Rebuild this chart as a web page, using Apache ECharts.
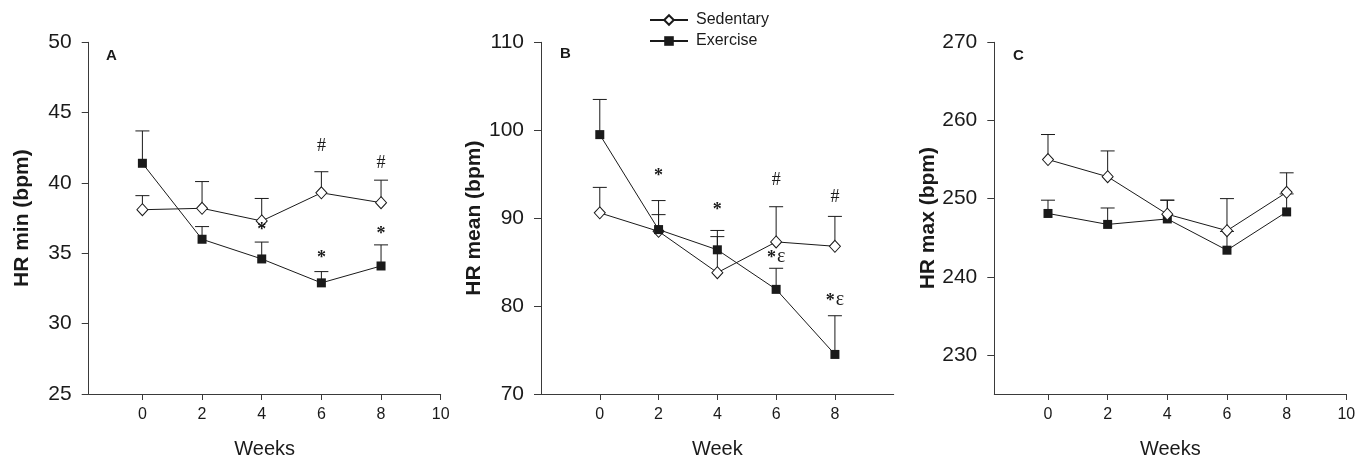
<!DOCTYPE html>
<html>
<head>
<meta charset="utf-8">
<script src="https://cdn.jsdelivr.net/npm/echarts@6/dist/echarts.min.js"></script>
<style>
html,body{margin:0;padding:0;background:#fff;}
#chart{width:1369px;height:464px;}
</style>
</head>
<body>
<div id="chart"></div>
<script>
// ---- data ----
const weeks = [0, 2, 4, 6, 8];

// Panel A: HR min
const hrMinSed    = [38.1, 38.2, 37.3, 39.3, 38.6];
const hrMinSedErr = [1.0, 1.9, 1.6, 1.5, 1.6];
const hrMinEx     = [41.4, 36.0, 34.6, 32.9, 34.1];
const hrMinExErr  = [2.3, 0.9, 1.2, 0.8, 1.5];

// Panel B: HR mean
const hrMeanSed    = [90.6, 88.5, 83.8, 87.3, 86.8];
const hrMeanSedErr = [2.9, 1.9, 4.1, 4.0, 3.4];
const hrMeanEx     = [99.5, 88.7, 86.4, 81.9, 74.5];
const hrMeanExErr  = [4.0, 3.3, 2.2, 2.4, 4.4];

// Panel C: HR max
const hrMaxSed    = [255.0, 252.8, 248.0, 245.9, 250.8];
const hrMaxSedErr = [3.2, 3.3, 1.8, 4.1, 2.5];
const hrMaxEx     = [248.1, 246.7, 247.4, 243.4, 248.3];
const hrMaxExErr  = [1.7, 2.1, 2.4, 2.4, 2.3];

// significance marks: weeks, values, texts
const annotAWeeks = [4, 6, 6, 8, 8];
const annotAVals  = [37.0, 42.6, 35.0, 41.4, 36.7];
const annotATexts = ['*', '#', '*', '#', '*'];
const annotBWeeks = [2, 4, 6, 8, 6, 8];
const annotBVals  = [95.3, 91.4, 94.3, 92.4, 85.8, 80.9];
const annotBTexts = ['*', '*', '#', '#', '*ε', '*ε'];

// axis tick values
const xTicksAC = [0, 2, 4, 6, 8, 10];
const xTicksB  = [0, 2, 4, 6, 8];
const yTicksA  = [25, 30, 35, 40, 45, 50];
const yTicksB  = [70, 80, 90, 100, 110];
const yTicksC  = [230, 240, 250, 260, 270];

const seriesNames = ['Sedentary', 'Exercise'];

// ---- chart ----
const FONT = 'Liberation Sans, Arial, sans-serif';
const SERIF = '"Liberation Serif", "DejaVu Serif", serif';
const INK = '#1a1a1a';
const AXIS = '#3a3a3a';

const panels = [
  {left: 88.7, width: 352, xmin: -1.8, xmax: 10, xticks: xTicksAC, ymin: 25, ymax: 50, yticks: yTicksA,
   yname: 'HR min (bpm)', xname: 'Weeks', sed: hrMinSed, sedErr: hrMinSedErr, ex: hrMinEx, exErr: hrMinExErr,
   aw: annotAWeeks, av: annotAVals, at: annotATexts, sedZ: 3, exZ: 4},
  {left: 541, width: 352.7, xmin: -2, xmax: 10, xticks: xTicksB, ymin: 70, ymax: 110, yticks: yTicksB,
   yname: 'HR mean (bpm)', xname: 'Week', sed: hrMeanSed, sedErr: hrMeanSedErr, ex: hrMeanEx, exErr: hrMeanExErr,
   aw: annotBWeeks, av: annotBVals, at: annotBTexts, sedZ: 3, exZ: 4},
  {left: 994.3, width: 352, xmin: -1.8, xmax: 10, xticks: xTicksAC, ymin: 225, ymax: 270, yticks: yTicksC,
   yname: 'HR max (bpm)', xname: 'Weeks', sed: hrMaxSed, sedErr: hrMaxSedErr, ex: hrMaxEx, exErr: hrMaxExErr,
   aw: [], av: [], at: [], sedZ: 4, exZ: 3}
];

const grid = [], xAxis = [], yAxis = [], series = [];

function errRender(params, api) {
  const x = api.value(0), m = api.value(1), e = api.value(2);
  const p0 = api.coord([x, m]);
  const p1 = api.coord([x, m + e]);
  return {
    type: 'group',
    children: [
      {type: 'line', shape: {x1: p0[0], y1: p0[1], x2: p1[0], y2: p1[1]}, style: {stroke: INK, lineWidth: 1}},
      {type: 'line', shape: {x1: p1[0] - 7, y1: p1[1], x2: p1[0] + 7, y2: p1[1]}, style: {stroke: INK, lineWidth: 1}}
    ]
  };
}

function makeAnnotRender(texts) {
  return function (params, api) {
    const p = api.coord([api.value(0), api.value(1)]);
    const txt = texts[params.dataIndex];
    if (txt === '#') {
      return {type: 'text', x: p[0], y: p[1],
        style: {text: txt, align: 'center', verticalAlign: 'middle', font: 'normal 18px ' + SERIF, fill: INK}};
    }
    if (txt === '*') {
      return {type: 'text', x: p[0], y: p[1] + 5,
        style: {text: txt, align: 'center', verticalAlign: 'middle', font: 'bold 18px ' + SERIF, fill: INK}};
    }
    return {type: 'text', x: p[0], y: p[1] + 2,
      style: {
        text: '{a|' + txt.charAt(0) + '}{e|' + txt.slice(1) + '}',
        align: 'center', verticalAlign: 'middle', fill: INK,
        rich: {
          a: {font: 'bold 18px ' + SERIF, fill: INK, verticalAlign: 'bottom', padding: [0, 1, 0, 0]},
          e: {font: 'normal 20px ' + SERIF, fill: INK, verticalAlign: 'bottom'}
        }
      }};
  };
}

panels.forEach((p, i) => {
  grid.push({left: p.left, top: 42.3, width: p.width, height: 352.7});
  xAxis.push({
    type: 'value', gridIndex: i, min: p.xmin, max: p.xmax,
    name: p.xname, nameLocation: 'middle', nameGap: 45,
    nameTextStyle: {fontFamily: FONT, fontSize: 20, color: INK},
    axisLine: {show: true, onZero: false, lineStyle: {color: AXIS, width: 1}},
    axisTick: {show: true, length: 6, customValues: p.xticks, lineStyle: {color: AXIS}},
    axisLabel: {customValues: p.xticks, margin: 13, fontFamily: FONT, fontSize: 16, color: INK},
    splitLine: {show: false}
  });
  yAxis.push({
    type: 'value', gridIndex: i, min: p.ymin, max: p.ymax,
    name: p.yname, nameLocation: 'middle', nameGap: 56, nameRotate: 90,
    nameTextStyle: {fontFamily: FONT, fontSize: 21, fontWeight: 'bold', color: INK},
    axisLine: {show: true, onZero: false, lineStyle: {color: AXIS, width: 1}},
    axisTick: {show: true, length: 7, customValues: p.yticks, lineStyle: {color: AXIS}},
    axisLabel: {customValues: p.yticks, margin: 17, fontFamily: FONT, fontSize: 21, color: INK},
    splitLine: {show: false}
  });
  series.push({
    type: 'custom', xAxisIndex: i, yAxisIndex: i, z: 2, silent: true,
    renderItem: errRender, encode: {x: 0, y: 1},
    data: weeks.map((w, k) => [w, p.sed[k], p.sedErr[k]])
  });
  series.push({
    type: 'custom', xAxisIndex: i, yAxisIndex: i, z: 2, silent: true,
    renderItem: errRender, encode: {x: 0, y: 1},
    data: weeks.map((w, k) => [w, p.ex[k], p.exErr[k]])
  });
  series.push({
    name: seriesNames[0], type: 'line', xAxisIndex: i, yAxisIndex: i, z: p.sedZ,
    data: weeks.map((w, k) => [w, p.sed[k]]),
    symbol: 'diamond', symbolSize: [11, 12], showAllSymbol: true,
    lineStyle: {color: INK, width: 1},
    itemStyle: {color: '#ffffff', borderColor: INK, borderWidth: 1}
  });
  series.push({
    name: seriesNames[1], type: 'line', xAxisIndex: i, yAxisIndex: i, z: p.exZ,
    data: weeks.map((w, k) => [w, p.ex[k]]),
    symbol: 'rect', symbolSize: 9, showAllSymbol: true,
    lineStyle: {color: INK, width: 1},
    itemStyle: {color: INK, borderColor: INK, borderWidth: 0}
  });
  if (p.aw.length) {
    series.push({
      type: 'custom', xAxisIndex: i, yAxisIndex: i, z: 5, silent: true,
      renderItem: makeAnnotRender(p.at), encode: {x: 0, y: 1},
      data: p.aw.map((w, k) => [w, p.av[k]])
    });
  }
});

const chart = echarts.init(document.getElementById('chart'), null, {renderer: 'canvas'});
chart.setOption({
  animation: false,
  backgroundColor: '#ffffff',
  grid, xAxis, yAxis, series,
  legend: {
    data: seriesNames, orient: 'vertical', left: 649, top: 12, padding: 0,
    itemWidth: 38, itemHeight: 12, itemGap: 5,
    textStyle: {fontFamily: FONT, fontSize: 16, color: INK, padding: [0, 0, 0, 3], lineHeight: 16},
    selectedMode: false
  },
  graphic: [
    {type: 'text', left: 106, top: 48, style: {text: 'A', font: 'bold 15px ' + FONT, fill: INK}},
    {type: 'text', left: 560, top: 46, style: {text: 'B', font: 'bold 15px ' + FONT, fill: INK}},
    {type: 'text', left: 1013, top: 48, style: {text: 'C', font: 'bold 15px ' + FONT, fill: INK}}
  ]
});
</script>
</body>
</html>
